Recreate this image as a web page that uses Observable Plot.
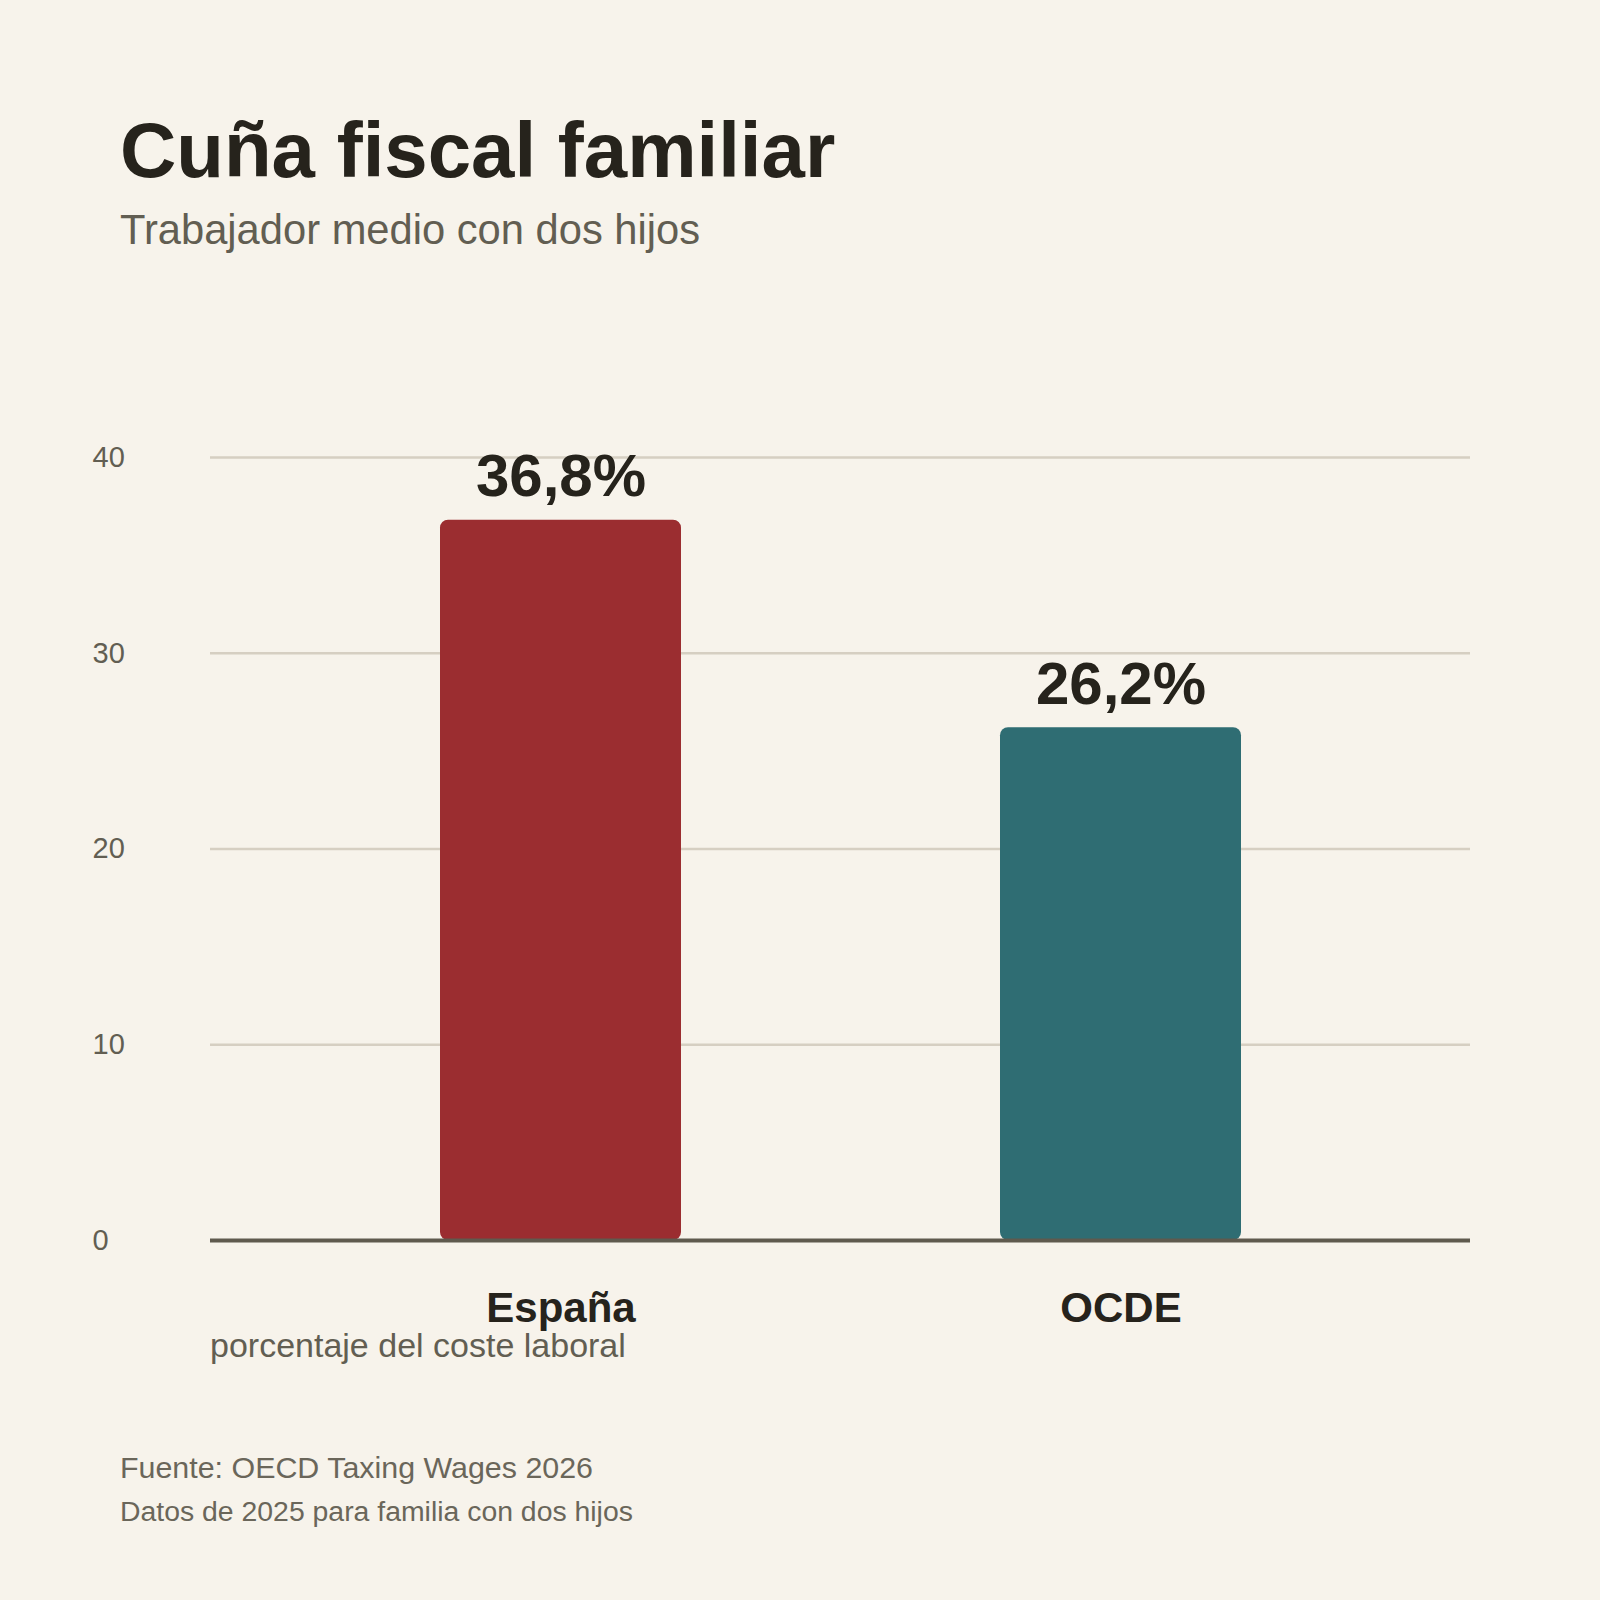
<!DOCTYPE html>
<html>
<head>
<meta charset="utf-8">
<script src="https://cdn.jsdelivr.net/npm/d3@7"></script>
<script src="https://cdn.jsdelivr.net/npm/@observablehq/plot@0.6"></script>
<style>
  html, body { margin: 0; padding: 0; background: #f7f3eb; }
  #wrap { position: relative; width: 1600px; height: 1600px; background: #f7f3eb; font-family: "Liberation Sans", Arial, sans-serif; overflow: hidden; }
  .t { position: absolute; white-space: nowrap; line-height: 1; margin: 0; }
  #title { left: 120px; top: 111px; font-size: 78px; font-weight: bold; color: #26231c; }
  #subtitle { left: 120px; top: 209px; font-size: 41.7px; color: #625e52; }
  #ylabel { left: 210px; top: 1328px; font-size: 34px; color: #625e52; }
  #source { left: 120px; top: 1452px; font-size: 30.4px; color: #6a665a; }
  #note { left: 120px; top: 1497px; font-size: 28.4px; color: #6a665a; }
  #chart { position: absolute; left: 0; top: 0; }
</style>
</head>
<body>
<div id="wrap">
  <div id="chart"></div>
  <div class="t" id="title">Cuña fiscal familiar</div>
  <div class="t" id="subtitle">Trabajador medio con dos hijos</div>
  <div class="t" id="ylabel">porcentaje del coste laboral</div>
  <div class="t" id="source">Fuente: OECD Taxing Wages 2026</div>
  <div class="t" id="note">Datos de 2025 para familia con dos hijos</div>
</div>
<script>
const categories = ["España", "OCDE"];
const values = [36.8, 26.2];
const valueLabels = ["36,8%", "26,2%"];
const barColors = ["#9b2d30", "#2f6d73"];
const yTicks = [0, 10, 20, 30, 40];

const data = categories.map((c, i) => ({ cat: c, value: values[i], label: valueLabels[i], color: barColors[i] }));

const chart = Plot.plot({
  width: 1600,
  height: 1600,
  marginTop: 457,
  marginBottom: 360,
  marginLeft: 210,
  marginRight: 130,
  style: { background: "transparent", fontFamily: "'Liberation Sans', Arial, sans-serif", overflow: "visible" },
  x: { domain: categories, paddingInner: 0.57, paddingOuter: 0.41, label: null },
  y: { domain: [0, 40], label: null },
  marks: [
    Plot.gridY(yTicks, { stroke: "#d6cfc2", strokeWidth: 2.5, strokeOpacity: 1 }),
    Plot.barY(data, { x: "cat", y: "value", fill: "color", rx: 8 }),
    Plot.ruleY([0], { stroke: "#5f5a4e", strokeWidth: 4 }),
    Plot.text(data, { x: "cat", y: "value", text: "label", fontSize: 60, fontWeight: "bold", fill: "#26231c", lineAnchor: "bottom", dy: -24 }),
    Plot.axisY(yTicks, { anchor: "left", tickSize: 0, tickPadding: 0, textAnchor: "start", dx: -118, fontSize: 29, fill: "#625e52", label: null }),
    Plot.axisX({ anchor: "bottom", tickSize: 0, tickPadding: 52, fontSize: 42, fontWeight: "bold", fill: "#26231c", label: null })
  ]
});
document.getElementById("chart").appendChild(chart);
</script>
</body>
</html>
